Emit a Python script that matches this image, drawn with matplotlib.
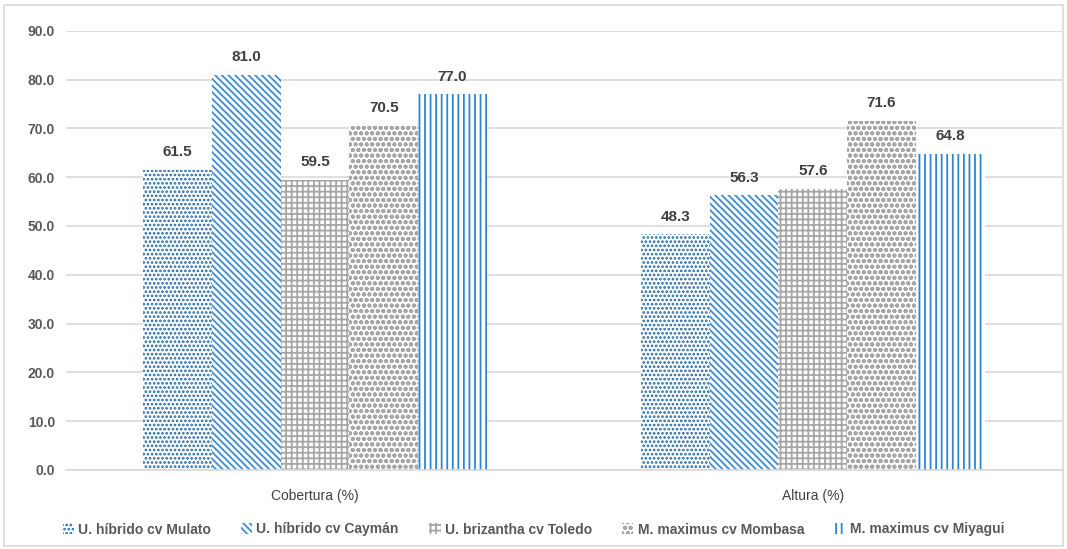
import numpy as np
import matplotlib.pyplot as plt
from matplotlib.patches import Rectangle

plt.rcParams['font.family'] = ['Liberation Sans', 'DejaVu Sans']
plt.rcParams['hatch.linewidth'] = 1.3

categories = ['Cobertura (%)', 'Altura (%)']
cultivars = ['U. híbrido cv Mulato', 'U. híbrido cv Caymán', 'U. brizantha cv Toledo',
             'M. maximus cv Mombasa', 'M. maximus cv Miyagui']
mulato = [61.5, 48.3]
cayman = [81.0, 56.3]
toledo = [59.5, 57.6]
mombasa = [70.5, 71.6]
miyagui = [77.0, 64.8]
series = [mulato, cayman, toledo, mombasa, miyagui]

hatches = ['....', '\\\\\\\\\\', '+++', 'ooo', '|||']
colors = ['#2369A3', '#3C8DD6', '#A6A6A6', '#A6A6A6', '#2E86D1']

fig = plt.figure(figsize=(10.67, 5.49), dpi=100)
fig.patches.append(Rectangle((0.004, 0.006), 0.992, 0.984, transform=fig.transFigure,
                             fill=False, edgecolor='#D9D9D9', linewidth=1.2))
ax = fig.add_axes([0.062, 0.144, 0.933, 0.8])

x = np.arange(len(categories))
w = 0.138
for i, vals in enumerate(series):
    pos = x + (i - 2) * w
    bars = ax.bar(pos, vals, w, facecolor='white', edgecolor=colors[i],
                  hatch=hatches[i], linewidth=0, label=cultivars[i], zorder=2)
    for b, v in zip(bars, vals):
        ax.text(b.get_x() + b.get_width() / 2, v + 3.6, f'{v:.1f}',
                ha='center', va='center', fontsize=11, fontweight='bold', color='#404040')

ax.set_xlim(-0.5, 1.5)
ax.set_ylim(0, 90)
ax.set_yticks(np.arange(0, 91, 10))
ax.set_yticklabels([f'{t:.1f}' for t in np.arange(0, 91, 10)],
                   fontsize=10, fontweight='bold', color='#595959')
ax.set_xticks(x)
ax.set_xticklabels(categories, fontsize=10, color='#404040')
ax.tick_params(axis='y', length=0, pad=8)
ax.tick_params(axis='x', length=0, pad=14)
ax.yaxis.grid(True, color='#D9D9D9', linewidth=1.2, zorder=0)
ax.set_axisbelow(True)
for s in ['top', 'right', 'left']:
    ax.spines[s].set_visible(False)
ax.spines['bottom'].set_color('#D9D9D9')
ax.spines['bottom'].set_linewidth(1.2)

leg = fig.legend(loc='lower center', bbox_to_anchor=(0.5, 0.0), ncol=5, frameon=False,
                 handlelength=0.8, handleheight=0.9, handletextpad=0.3, columnspacing=2.2,
                 prop={'size': 10, 'weight': 'bold'})
for t in leg.get_texts():
    t.set_color('#595959')

fig.savefig('out.png', dpi=100)
